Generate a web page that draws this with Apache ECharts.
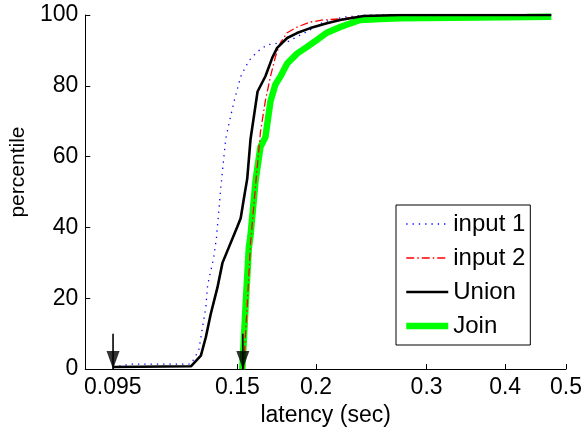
<!DOCTYPE html>
<html><head><meta charset="utf-8">
<script src="https://cdn.jsdelivr.net/npm/echarts@6/dist/echarts.min.js"></script>
<style>html,body{margin:0;padding:0;background:#fff}#c{width:585px;height:432px}</style>
</head><body><div id="c"></div>
<script>
// ---- data (latency in seconds, percentile) ----
const xTicks = [0.095, 0.15, 0.2, 0.3, 0.4, 0.5];
const xTickLabels = ['0.095', '0.15', '0.2', '0.3', '0.4', '0.5'];
const xRange = [0.0859, 0.5];
const yTicks = [0, 20, 40, 60, 80, 100];
const seriesNames = ['input 1', 'input 2', 'Union', 'Join'];

const input1 = [
  [0.0951,0.5],[0.1016,1.4],[0.1265,1.4],[0.1302,5.3],[0.1320,11.8],[0.1336,17.4],
  [0.1345,23.8],[0.1375,31.4],[0.1389,37.0],[0.1411,51.0],[0.1437,65.0],[0.1453,69.0],
  [0.1479,75.0],[0.1518,82.6],[0.1563,87.0],[0.1613,89.6],[0.1673,91.6],[0.1800,92.4],
  [0.1959,95.8],[0.2054,98.0],[0.2210,99.4],[0.2412,100],[0.4737,100]
];
const input2 = [
  [0.1534,0],[0.1555,18.2],[0.1574,35.6],[0.1603,51.8],[0.1632,66.9],[0.1662,75.9],
  [0.1693,82.6],[0.1724,88.2],[0.1756,92.2],[0.1800,95.0],[0.1866,96.6],[0.1959,98.0],
  [0.2054,98.6],[0.2186,98.9],[0.2377,99.7],[0.2721,100],[0.4737,100]
];
const union = [
  [0.0951,0.6],[0.1265,0.8],[0.1312,3.8],[0.1336,9.0],[0.1360,15.5],[0.1394,23.0],
  [0.1420,30.0],[0.1500,40.3],[0.1518,42.6],[0.1536,48.2],[0.1555,53.8],[0.1574,65.0],
  [0.1615,78.4],[0.1662,82.7],[0.1704,87.9],[0.1735,90.7],[0.1800,93.5],[0.1866,94.9],
  [0.1959,96.3],[0.2082,97.7],[0.2186,98.6],[0.2380,99.7],[0.2721,100],[0.4737,100]
];
const join = [
  [0.1527,0],[0.1546,18.2],[0.1564,34.2],[0.1574,37.8],[0.1603,53.2],[0.1632,62.7],
  [0.1662,65.5],[0.1693,75.6],[0.1724,80.4],[0.1756,82.6],[0.1800,86.3],[0.1866,89.1],
  [0.1936,91.0],[0.2008,93.0],[0.2082,95.0],[0.2186,96.6],[0.2351,98.6],[0.2529,98.9],
  [0.2721,99.1],[0.4325,99.4],[0.4737,99.5]
];
const arrowX = [0.0951, 0.1530];
const arrowTop = 10;

// ---- build ----
const L = v => Math.log(v);
const tr = arr => arr.map(p => [L(p[0]), p[1]]);
const tickVals = xTicks.map(L);
const FONT = 'Liberation Sans';

const lineSeries = (name, data, style, z) => ({
  name, type: 'line', data: tr(data), symbol: 'none', z,
  itemStyle: { color: style.color },
  lineStyle: style, emphasis: { disabled: true }, silent: true
});

const series = [
  lineSeries('input 1', input1, { color: '#0000ff', width: 1.3, type: [1.3, 5] }, 3),
  lineSeries('input 2', input2, { color: '#ff0000', width: 1.3, type: [8, 3, 1.5, 3] }, 4),
  lineSeries('Union', union, { color: '#000000', width: 2.6 }, 5),
  lineSeries('Join', join, { color: '#00ff00', width: 6.5 }, 2)
];
arrowX.forEach(x => {
  series.push({
    type: 'line', data: [[L(x), arrowTop], [L(x), 0]], symbol: 'none', z: 6, silent: true,
    lineStyle: { color: '#000', width: 1.6 }
  });
  series.push({
    type: 'scatter', data: [[L(x), 0]], symbol: 'triangle', symbolSize: [13, 18],
    symbolRotate: 180, symbolOffset: [0, -9], z: 7, silent: true,
    itemStyle: { color: '#000' }
  });
});

const chart = echarts.init(document.getElementById('c'), null, { renderer: 'canvas' });
const hideSym = { opacity: 0 };
chart.setOption({
  animation: false,
  backgroundColor: '#fff',
  textStyle: { fontFamily: FONT, color: '#000' },
  grid: { left: 84, right: 18, top: 15, bottom: 60, containLabel: false },
  xAxis: {
    type: 'value', min: L(xRange[0]), max: L(xRange[1]),
    name: 'latency (sec)', nameLocation: 'middle', nameGap: 27,
    nameTextStyle: { fontSize: 23, color: '#000', fontFamily: FONT },
    axisLine: { onZero: false, lineStyle: { color: '#000', width: 1 } },
    axisTick: { inside: true, length: 5, customValues: tickVals, lineStyle: { color: '#000' } },
    axisLabel: {
      customValues: tickVals, fontSize: 23, color: '#000', margin: 7, fontFamily: FONT,
      formatter: v => {
        let bi = 0;
        tickVals.forEach((t, i) => { if (Math.abs(t - v) < Math.abs(tickVals[bi] - v)) bi = i; });
        return xTickLabels[bi];
      }
    },
    splitLine: { show: false }
  },
  yAxis: {
    type: 'value', min: yTicks[0], max: yTicks[yTicks.length - 1], interval: yTicks[1] - yTicks[0],
    name: 'percentile', nameLocation: 'middle', nameGap: 56,
    nameTextStyle: { fontSize: 21, color: '#000', fontFamily: FONT, padding: [0, 0, 0, 40] },
    axisLine: { show: true, lineStyle: { color: '#000', width: 1 } },
    axisTick: { show: true, inside: true, length: 5, lineStyle: { color: '#000' } },
    axisLabel: { fontSize: 23, color: '#000', margin: 7, fontFamily: FONT },
    splitLine: { show: false }
  },
  legend: {
    orient: 'vertical', left: 396, top: 205,
    padding: [7, 5, 7, 7], itemWidth: 42, itemHeight: 22, itemGap: 10,
    borderColor: '#000', borderWidth: 1, backgroundColor: '#fff',
    textStyle: { fontSize: 24, color: '#000', fontFamily: FONT },
    itemStyle: hideSym,
    selectedMode: false,
    data: [
      { name: seriesNames[0], lineStyle: { width: 1.3 }, itemStyle: hideSym },
      { name: seriesNames[1], lineStyle: { width: 1.3 }, itemStyle: hideSym },
      { name: seriesNames[2], lineStyle: { width: 2.6 }, itemStyle: hideSym },
      { name: seriesNames[3], lineStyle: { width: 6.5 }, itemStyle: hideSym }
    ]
  },
  series
});
</script></body></html>
